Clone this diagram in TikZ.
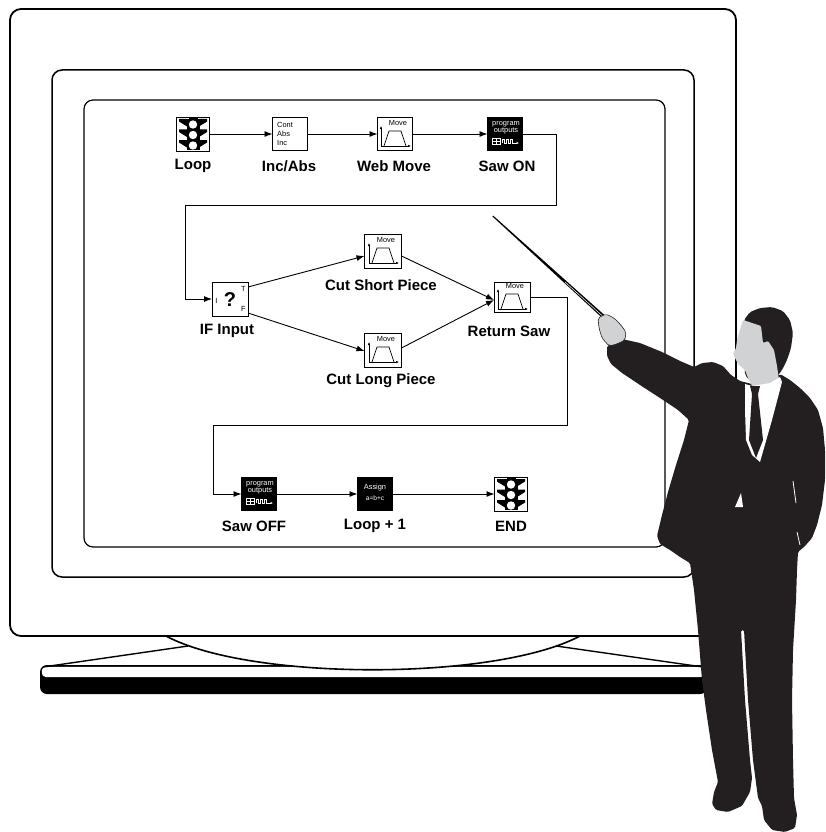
\documentclass[tikz,border=0pt]{standalone}
\usepackage{fontspec}
\setmainfont{Liberation Sans}
\usetikzlibrary{arrows.meta}
\definecolor{suit}{RGB}{35,31,32}
\definecolor{skin}{RGB}{208,210,211}

\tikzset{
  iconw/.style={draw=black, line width=0.9pt, fill=white, minimum width=35pt,
                minimum height=33pt, inner sep=0pt, outer sep=0pt},
  iconb/.style={iconw, fill=black},
  lbl/.style={font=\bfseries\fontsize{15}{15}\selectfont, inner sep=0pt},
  tinytxt/.style={font=\fontsize{7.4}{7.4}\selectfont, inner sep=0pt},
  wire/.style={line width=0.9pt},
  conn/.style={wire, -{Latex[length=8pt,width=6pt]}},
  axis/.style={line width=0.7pt, -{Latex[length=3pt,width=2.6pt]}},
  % traffic light glyph of the start / end blocks
  trafficlight/.pic={
    \fill[black] (-6.5,-15) rectangle (6.5,16);
    \fill[black] (-4.5,-16.5) rectangle (4.5,-14);
    \foreach \yc in {-9.5,1,11.5}{
      \fill[black] (-14,\yc-5.5) -- (-6,\yc-5.5) -- (-6,\yc+2) -- (-14,\yc-3) -- cycle;
      \fill[black] (14,\yc-5.5) -- (6,\yc-5.5) -- (6,\yc+2) -- (14,\yc-3) -- cycle;
      \fill[white] (0,\yc) circle (4.2);
    }
  },
  % motion profile glyph
  movegraph/.pic={
    \node[tinytxt, name=-t] at (3,-11) {Move};
    \draw[axis] (-14,12) -- (-14,-8);
    \draw[axis] (-14,12) -- (16,12);
    \draw[line width=0.7pt] (-11,12) -- (-6,-3) -- (6,-3) -- (11,12);
  },
  % digital output glyph
  outglyph/.pic={
    \node[tinytxt, white, name=-a] at (1,-10) {program};
    \node[tinytxt, white, name=-b] at (1,-3) {outputs};
    \draw[white, line width=0.5pt] (-13,4) rectangle (-5,10) (-13,7) -- (-5,7) (-9,4) -- (-9,10);
    \draw[white, line width=0.7pt, -{Latex[length=2.5pt,width=2.4pt]}]
      (-3,9) -- (-3,5) -- (-1,5) -- (-1,9) -- (1,9) -- (1,5) -- (3,5) -- (3,9)
      -- (5,9) -- (5,5) -- (7,5) -- (7,9) -- (14,9);
  },
  assignglyph/.pic={
    \node[tinytxt, white, name=-a] at (0,-6) {Assign};
    \node[tinytxt, white, font=\fontsize{6.6}{6.6}\selectfont, name=-b] at (0,4) {a=b+c};
  },
  modeglyph/.pic={
    \node[tinytxt, anchor=west, name=-a] at (-13,-9) {Cont};
    \node[tinytxt, anchor=west, name=-b] at (-13,0) {Abs};
    \node[tinytxt, anchor=west, name=-c] at (-13,9) {Inc};
  },
  ifglyph/.pic={
    \node[font=\bfseries\fontsize{20}{20}\selectfont, inner sep=0pt, name=-q] at (0,1) {?};
    \node[tinytxt, name=-i] at (-13.5,1.5) {I};
    \node[tinytxt, name=-t] at (13.5,-10) {T};
    \node[tinytxt, name=-f] at (13.5,10) {F};
  },
}

\begin{document}
\begin{tikzpicture}[x=1pt,y=-1pt]
\useasboundingbox (0,0) rectangle (825,832);
\fill[white] (0,0) rectangle (825,832);

% ---------- monitor stand ----------
\fill[black, rounded corners=7pt] (40,665) rectangle (707,694);
\fill[white, rounded corners=4pt] (41.8,666.8) rectangle (705.2,677);
\draw[line width=1.4pt] (188,646) -- (43,667);
\draw[line width=1.4pt] (556,646) -- (703,667);
\draw[line width=1.6pt, fill=white] (166,636) .. controls (250,681) and (495,681) .. (580,636);

% ---------- monitor case, bezel and screen ----------
\draw[line width=1.8pt, fill=white, rounded corners=11pt] (10,9) rectangle (736,636);
\draw[line width=1.5pt, rounded corners=10pt] (52,70) rectangle (694,577);
\draw[line width=1.2pt, rounded corners=9pt] (84,100) rectangle (665,547);

% ---------- program blocks ----------
\node[iconw, minimum width=33pt, minimum height=34pt] (loop) at (193,134) {};
\pic (loopG) at (loop) {trafficlight};
\node[iconw] (incabs) at (290,134) {};
\pic (incabsG) at (incabs) {modeglyph};
\node[iconw] (webmove) at (395,134) {};
\pic (webmoveG) at (webmove) {movegraph};
\node[iconb] (sawon) at (505,134) {};
\pic (sawonG) at (sawon) {outglyph};

\node[iconw, minimum width=36pt, minimum height=34pt] (ifin) at (230,299) {};
\pic (ifinG) at (ifin) {ifglyph};
\node[iconw, minimum width=37pt, minimum height=34pt] (cutshort) at (383,251) {};
\pic (cutshortG) at (cutshort) {movegraph};
\node[iconw, minimum width=37pt, minimum height=34pt] (cutlong) at (383,350) {};
\pic (cutlongG) at (cutlong) {movegraph};
\node[iconw, minimum width=36pt, minimum height=30pt] (retsaw) at (512,297) {};
\pic (retsawG) at (retsaw) {movegraph};

\node[iconb] (sawoff) at (259,494) {};
\pic (sawoffG) at (sawoff) {outglyph};
\node[iconb] (loopinc) at (375,494) {};
\pic (loopincG) at (loopinc) {assignglyph};
\node[iconw, minimum width=33pt, minimum height=34pt] (endn) at (511,494) {};
\pic (endnG) at (endn) {trafficlight};

% ---------- block captions ----------
\node[lbl] (loopL)     at (193,166) {Loop};
\node[lbl] (incabsL)   at (289,166) {Inc/Abs};
\node[lbl] (webmoveL)  at (394,166) {Web Move};
\node[lbl] (sawonL)    at (507,166) {Saw ON};
\node[lbl] (ifinL)     at (227,331) {IF Input};
\node[lbl] (cutshortL) at (381,285) {Cut Short Piece};
\node[lbl] (cutlongL)  at (381,381) {Cut Long Piece};
\node[lbl] (retsawL)   at (509,331) {Return Saw};
\node[lbl] (sawoffL)   at (254,526) {Saw OFF};
\node[lbl] (loopincL)  at (375,526) {Loop + 1};
\node[lbl] (endnL)     at (511,526) {END};

% ---------- flow connectors ----------
\coordinate (r1) at (556,205);
\coordinate (l1) at (185,205);
\coordinate (r2) at (567,425);
\coordinate (l2) at (213,425);

\draw[conn] (loop) -- (incabs);
\draw[conn] (incabs) -- (webmove);
\draw[conn] (webmove) -- (sawon);
\draw[conn] (sawon.east) -| (r1) -- (l1) |- (ifin.west);
\draw[conn] ([yshift=12pt]ifin.east) -- ([yshift=-5pt]cutshort.west);
\draw[conn] ([yshift=-14pt]ifin.east) -- ([yshift=-1pt]cutlong.west);
\draw[conn] ([yshift=-5pt]cutshort.east) -- ([yshift=-3pt]retsaw.west);
\draw[conn] ([yshift=2pt]cutlong.east) -- ([yshift=-3pt]retsaw.west);
\draw[conn] (retsaw.east) -| (r2) -- (l2) |- (sawoff.west);
\draw[conn] (sawoff) -- (loopinc);
\draw[conn] (loopinc) -- (endn);

% ---------- pointer stick ----------
\fill[black] (492.3,216.3) -- (493.3,215.7) -- (606.2,316.6) -- (603.8,319.4) -- cycle;
\draw[white, line width=0.5pt] (565,282) -- (604.5,317.8);

% ---------- presenter ----------
\fill[suit, rounded corners=1.5pt]
  (607,346) -- (622,339) -- (640,343) -- (662,352) -- (680,361) -- (694,367)
  -- (702,363) -- (713,362) -- (723,366) -- (731,375) -- (740,381) -- (752,384)
  -- (770,380) -- (780,374) -- (790,380) -- (800,388) -- (810,398) -- (818,410)
  -- (823,428) -- (825,450) -- (825,480) -- (822,505) -- (817,525) -- (812,538)
  -- (805,546) -- (798,552) -- (797,570) -- (796,600) -- (793,650) -- (792,700)
  -- (793,760) -- (794,798) -- (797,815) -- (795,828) -- (785,832) -- (772,830)
  -- (764,820) -- (762,806) -- (758,798) -- (753,760) -- (748,700) -- (744,630)
  -- (741,630) -- (745,700) -- (750,760) -- (752,778) -- (750,792) -- (742,806)
  -- (728,812) -- (716,810) -- (712,804) -- (714,792) -- (718,782) -- (712,750)
  -- (706,710) -- (702,680) -- (698,630) -- (694,590) -- (690,563) -- (680,557)
  -- (670,550) -- (660,544) -- (657,536) -- (662,515) -- (668,492) -- (676,465)
  -- (684,440) -- (689,420) -- (678,410) -- (660,398) -- (640,385) -- (622,373)
  -- (611,364) -- (607,356) -- cycle;
% hair
\fill[suit, rounded corners=2pt]
  (744,320) -- (750,312) -- (760,308) -- (772,307) -- (783,311) -- (790,320)
  -- (793,333) -- (791,348) -- (787,360) -- (782,370) -- (776,378) -- (765,382)
  -- (752,383) -- (745,375) -- cycle;
% face and neck
\fill[skin, rounded corners=1pt]
  (743,320) -- (752,323) -- (761,326) -- (763,343) -- (768,341) -- (774,350)
  -- (777,366) -- (779,380) -- (768,385) -- (752,386) -- (748,378) -- (745,370)
  -- (738,364) -- (735,358) -- (733,354) -- (736,348) -- (737,340) -- (740,330) -- cycle;
% shirt and tie
\fill[white] (745,384) -- (752,386) -- (770,383) -- (780,377) -- (782,382)
  -- (772,420) -- (760,462) -- (752,455) -- (746,440) -- (745,410) -- cycle;
\fill[suit] (750,386) -- (760,386) -- (758,394) -- (763,440) -- (756,458)
  -- (749,440) -- (752,394) -- cycle;
% jacket details
\fill[white] (735,507) -- (741,493) -- (743,507) -- cycle;
\draw[white, line width=0.8pt] (793,481) -- (796,503);
\draw[white, line width=0.8pt] (797,532) -- (800,545);
% hand
\draw[suit, fill=skin, line width=0.6pt, rounded corners=2pt]
  (598,318) -- (606,314) -- (614,318) -- (620,324) -- (626,332) -- (625,340)
  -- (617,344) -- (609,346) -- (602,338) -- (599,328) -- cycle;
\end{tikzpicture}
\end{document}
